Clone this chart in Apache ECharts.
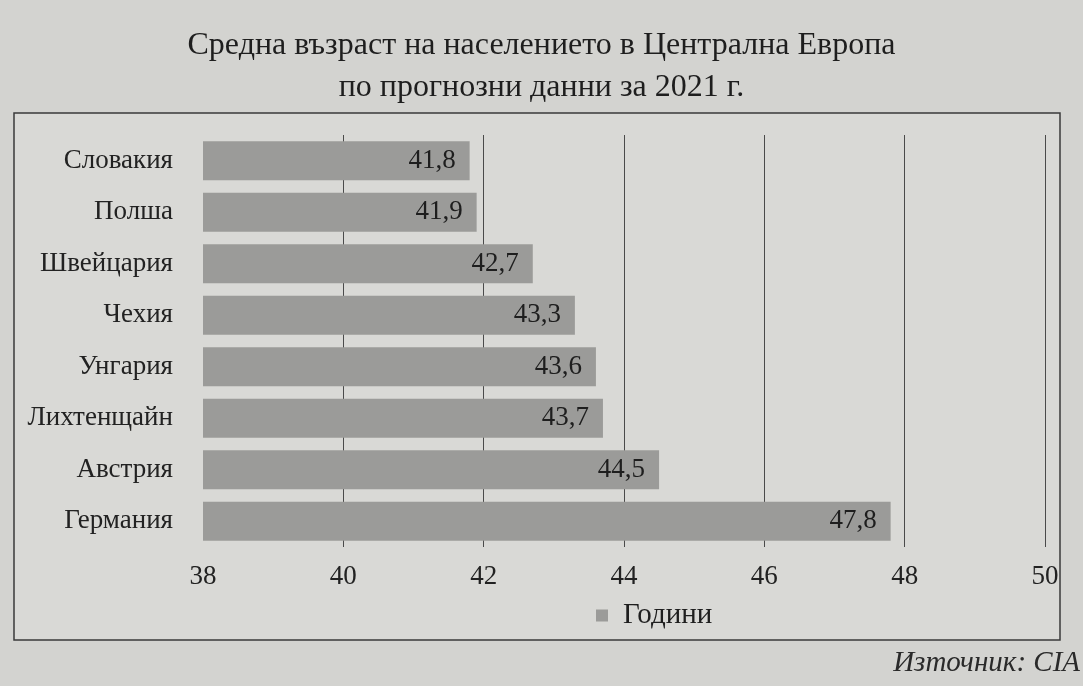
<!DOCTYPE html>
<html><head><meta charset="utf-8">
<script src="https://cdn.jsdelivr.net/npm/echarts@6/dist/echarts.min.js"></script>
<style>html,body{margin:0;padding:0;background:#d3d3d0;}#c{width:1083px;height:686px;}</style>
</head><body><div id="c"></div>
<script>
const categories = ['Словакия','Полша','Швейцария','Чехия','Унгария','Лихтенщайн','Австрия','Германия'];
const values = [41.8, 41.9, 42.7, 43.3, 43.6, 43.7, 44.5, 47.8];
const seriesName = 'Години';
const titleText = 'Средна възраст на населението в Централна Европа\nпо прогнозни данни за 2021 г.';
const sourceText = 'Източник: CIA';

const chart = echarts.init(document.getElementById('c'));
const serif = '"Liberation Serif", "DejaVu Serif", serif';
chart.setOption({
  backgroundColor: '#d3d3d0',
  animation: false,
  title: {
    text: titleText, left: 'center', top: 20,
    textStyle: { fontFamily: serif, fontWeight: 'normal', fontSize: 32, color: '#1e1e1e', lineHeight: 42 }
  },
  graphic: [
    { type: 'rect', shape: { x: 14, y: 113, width: 1046, height: 527 },
      style: { fill: '#d9d9d6', stroke: '#3a3a3a', lineWidth: 1.5 }, z: -10 },
    { type: 'text', right: 3, top: 649,
      style: { text: sourceText, font: 'italic 29px ' + serif, fill: '#2a2a2a' } }
  ],
  legend: {
    data: [seriesName], left: 591, top: 596, itemWidth: 12, itemHeight: 12, icon: 'rect', itemGap: 10,
    textStyle: { fontFamily: serif, fontSize: 29, color: '#1e1e1e', padding: [0, 0, 0, 10] }
  },
  grid: { left: 203, right: 38, top: 135, bottom: 139, containLabel: false },
  xAxis: {
    type: 'value', min: 38, max: 50, interval: 2,
    axisLine: { show: false }, axisTick: { show: false },
    axisLabel: { fontFamily: serif, fontSize: 27, color: '#222', margin: 16 },
    splitLine: { show: true, lineStyle: { color: ['rgba(0,0,0,0)', '#4a4a4a', '#4a4a4a', '#4a4a4a', '#4a4a4a', '#4a4a4a', '#4a4a4a'], width: 1 } }
  },
  yAxis: {
    type: 'category', data: categories, inverse: true,
    axisLine: { show: false }, axisTick: { show: false },
    axisLabel: { fontFamily: serif, fontSize: 27, color: '#222', margin: 30 }
  },
  series: [{
    name: seriesName, type: 'bar', data: values, barWidth: '76%',
    itemStyle: { color: '#9b9b99' },
    label: {
      show: true, position: 'insideRight', distance: 14,
      fontFamily: serif, fontSize: 27, color: '#1e1e1e',
      formatter: p => String(p.value).replace('.', ',')
    }
  }]
});
</script></body></html>
